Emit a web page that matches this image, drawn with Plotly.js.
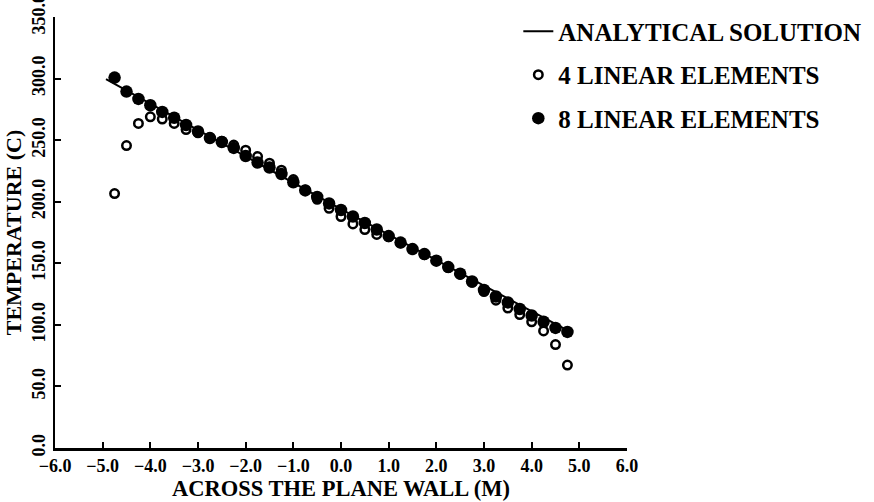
<!DOCTYPE html>
<html>
<head>
<meta charset="utf-8">
<script src="https://cdn.plot.ly/plotly-3.0.1.min.js"></script>
<style>
  html, body { margin: 0; padding: 0; background: #ffffff; }
  #chart { width: 874px; height: 502px; }
</style>
</head>
<body>
<div id="chart"></div>
<script>
// Nodal positions across the wall (m)
const nodeX = [
  -4.75, -4.5, -4.25, -4.0, -3.75, -3.5, -3.25, -3.0, -2.75, -2.5,
  -2.25, -2.0, -1.75, -1.5, -1.25, -1.0, -0.75, -0.5, -0.25, 0.0,
  0.25, 0.5, 0.75, 1.0, 1.25, 1.5, 1.75, 2.0, 2.25, 2.5,
  2.75, 3.0, 3.25, 3.5, 3.75, 4.0, 4.25, 4.5, 4.75
];

// Temperature (C) from the 4-element mesh
const fourElementTemp = [
  206.6, 245.6, 263.6, 268.9, 267.1, 263.6, 258.6, 256.0, 252.0, 249.0,
  246.0, 241.8, 236.7, 231.3, 225.6, 218.0, 209.5, 202.0, 194.7, 188.0,
  182.0, 177.4, 173.4, 171.5, 166.5, 161.5, 157.0, 152.0, 146.5, 141.0,
  134.5, 127.0, 120.0, 113.7, 108.4, 102.5, 95.1, 84.0, 67.3
];

// Temperature (C) from the 8-element mesh
const eightElementTemp = [
  300.8, 289.4, 283.5, 278.3, 272.9, 268.2, 262.3, 257.0, 251.7, 248.5,
  243.7, 237.1, 231.8, 227.8, 222.5, 215.8, 209.2, 203.9, 198.6, 193.3,
  188.0, 182.7, 177.4, 172.1, 166.8, 161.5, 157.5, 152.1, 146.9, 141.6,
  135.2, 128.3, 123.0, 118.2, 112.9, 107.6, 102.5, 97.5, 94.3
];

// Analytical (linear) temperature profile
const exactX = [-4.93, 0.0, 4.8];
const exactTemp = [299.5, 194.0, 94.5];

// Axis ticks
const xTickVals = [-6, -5, -4, -3, -2, -1, 0, 1, 2, 3, 4, 5, 6];
const xTickLabels = ['\u22126.0', '\u22125.0', '\u22124.0', '\u22123.0', '\u22122.0', '\u22121.0',
                     '0.0', '1.0', '2.0', '3.0', '4.0', '5.0', '6.0'];
const yTickVals = [0, 50, 100, 150, 200, 250, 300, 350];
const yTickLabels = ['0.0', '50.0', '100.0', '150.0', '200.0', '250.0', '300.0', '350.0'];

const serif = 'Liberation Serif, DejaVu Serif, Times New Roman, serif';

// Open circles go underneath the filled dots
const traces = [
  {
    name: 'ANALYTICAL SOLUTION',
    x: exactX, y: exactTemp,
    mode: 'lines',
    line: { color: '#000000', width: 2 },
    legendgroup: 'exact',
    hoverinfo: 'skip'
  },
  {
    name: '4 LINEAR ELEMENTS',
    x: nodeX, y: fourElementTemp,
    mode: 'markers',
    legendgroup: 'fe4',
    marker: { symbol: 'circle', size: 8.5, color: '#ffffff', line: { color: '#000000', width: 2.5 } }
  },
  {
    name: '8 LINEAR ELEMENTS',
    x: nodeX, y: eightElementTemp,
    mode: 'markers',
    legendgroup: 'fe8',
    marker: { symbol: 'circle', size: 12.5, color: '#000000', line: { width: 0 } }
  }
];

const layout = {
  width: 874,
  height: 502,
  paper_bgcolor: '#ffffff',
  plot_bgcolor: '#ffffff',
  margin: { l: 55, r: 241, t: 8, b: 54 },
  font: { family: serif, color: '#000000', weight: 'bold' },
  showlegend: true,
  legend: {
    x: 0.81, xanchor: 'left',
    y: 1.02, yanchor: 'top',
    xref: 'paper', yref: 'paper',
    bgcolor: 'rgba(0,0,0,0)',
    borderwidth: 0,
    traceorder: 'grouped',
    font: { family: serif, size: 25, color: '#000000', weight: 'bold' },
    tracegroupgap: 8,
    itemwidth: 30
  },
  xaxis: {
    range: [-6, 6],
    tickmode: 'array',
    tickvals: xTickVals,
    ticktext: xTickLabels,
    ticks: 'inside',
    ticklen: 6,
    tickwidth: 2,
    tickcolor: '#000000',
    showline: true,
    linecolor: '#000000',
    linewidth: 2.5,
    showgrid: false,
    zeroline: false,
    tickfont: { family: serif, size: 18, weight: 'bold' },
    title: { text: 'ACROSS THE PLANE WALL (M)', font: { family: serif, size: 22.5, weight: 'bold' }, standoff: 2 }
  },
  yaxis: {
    range: [0, 350],
    tickmode: 'array',
    tickvals: yTickVals,
    ticktext: yTickLabels,
    tickangle: -90,
    ticklabeloverflow: 'allow',
    ticks: 'inside',
    ticklen: 6,
    tickwidth: 2,
    tickcolor: '#000000',
    showline: true,
    linecolor: '#000000',
    linewidth: 2.5,
    showgrid: false,
    zeroline: false,
    tickfont: { family: serif, size: 18, weight: 'bold' },
    title: { text: 'TEMPERATURE (C)', font: { family: serif, size: 22, weight: 'bold' }, standoff: 2 }
  }
};

Plotly.newPlot('chart', traces, layout, { staticPlot: true, displayModeBar: false });
</script>
</body>
</html>
